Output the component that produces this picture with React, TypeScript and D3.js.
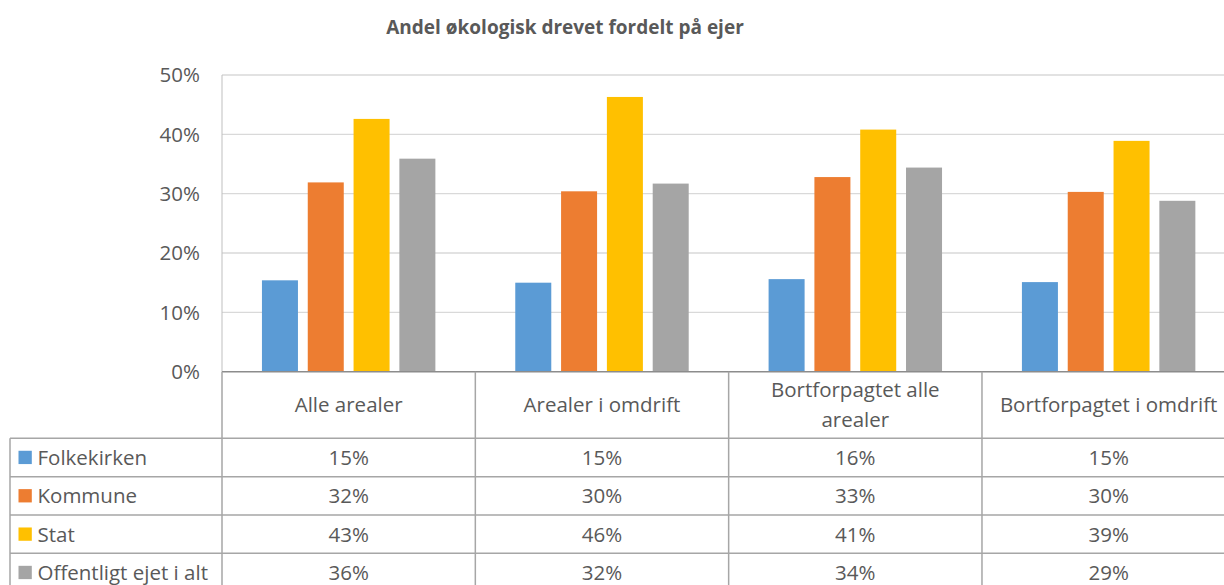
import React from "react";
import * as d3 from "d3";

const title = "Andel økologisk drevet fordelt på ejer";
const categories = ["Alle arealer", "Arealer i omdrift", "Bortforpagtet alle arealer", "Bortforpagtet i omdrift"];
const categoryLines = [["Alle arealer"], ["Arealer i omdrift"], ["Bortforpagtet alle", "arealer"], ["Bortforpagtet i omdrift"]];
const seriesNames = ["Folkekirken", "Kommune", "Stat", "Offentligt ejet i alt"];
const folkekirken = [0.154, 0.150, 0.156, 0.151];
const kommune = [0.319, 0.304, 0.328, 0.303];
const stat = [0.426, 0.463, 0.408, 0.389];
const offentligt = [0.359, 0.317, 0.344, 0.288];
const yTicks = [0, 0.1, 0.2, 0.3, 0.4, 0.5];
const colors = ["#5B9BD5", "#ED7D31", "#FFC000", "#A5A5A5"];

const seriesValues = [folkekirken, kommune, stat, offentligt];

const W = 1224;
const H = 585;
const plotLeft = 222;
const plotRight = 1235.3;
const plotTop = 75;
const plotBottom = 371.7;
const tableLeft = 10;
const headerBottom = 438.3;
const rowH = 38.35;

const FONT = "'Open Sans', sans-serif";
const TXT = "#595959";
const LINE = "#A6A6A6";

export default function App() {
  const x0 = d3.scaleBand<string>().domain(categories).range([plotLeft, plotRight]).padding(0);
  const x1 = d3
    .scaleBand<string>()
    .domain(seriesNames)
    .range([0, x0.bandwidth()])
    .paddingInner(0.214)
    .paddingOuter(0.872);
  const y = d3.scaleLinear().domain([0, 0.5]).range([plotBottom, plotTop]);
  const fmt = d3.format(".0%");

  const rowY = (i: number) => headerBottom + i * rowH;

  return (
    <svg
      width={W}
      height={H}
      style={{ position: "absolute", left: 0, top: 0, background: "#fff" }}
      fontFamily={FONT}
    >
      <rect x={0} y={0} width={W} height={H} fill="#fff" />
      <text x={565} y={33.5} textAnchor="middle" fontWeight="bold" fontSize={19} fill={TXT}>
        {title}
      </text>

      {/* gridlines */}
      {yTicks.slice(1).map((t) => (
        <line key={t} x1={plotLeft} x2={plotRight} y1={y(t)} y2={y(t)} stroke="#D9D9D9" strokeWidth={1.3} />
      ))}
      {/* y labels */}
      {yTicks.map((t) => (
        <text key={"l" + t} x={200} y={y(t)} dy="0.36em" textAnchor="end" fontSize={20.5} fill={TXT}>
          {fmt(t)}
        </text>
      ))}
      {/* y axis line */}
      <line x1={plotLeft} x2={plotLeft} y1={plotTop} y2={plotBottom} stroke="#BFBFBF" strokeWidth={1} />

      {/* bars */}
      {categories.map((c, ci) => (
        <g key={c} transform={`translate(${x0(c)},0)`}>
          {seriesNames.map((s, si) => {
            const v = seriesValues[si][ci];
            return (
              <rect
                key={s}
                x={x1(s)}
                y={y(v)}
                width={x1.bandwidth()}
                height={plotBottom - y(v)}
                fill={colors[si]}
              />
            );
          })}
        </g>
      ))}

      {/* table lines */}
      <line x1={plotLeft} x2={W} y1={plotBottom} y2={plotBottom} stroke="#8C8C8C" strokeWidth={1.5} />
      {[0, 1, 2, 3, 4].map((i) => (
        <line key={"h" + i} x1={tableLeft} x2={W} y1={rowY(i)} y2={rowY(i)} stroke={LINE} strokeWidth={1.5} />
      ))}
      <line x1={tableLeft} x2={tableLeft} y1={headerBottom} y2={H} stroke={LINE} strokeWidth={1.5} />
      {categories.map((c) => (
        <line key={"v" + c} x1={x0(c)} x2={x0(c)} y1={plotBottom} y2={H} stroke={LINE} strokeWidth={1.5} />
      ))}
      <line x1={plotRight} x2={plotRight} y1={plotBottom} y2={H} stroke={LINE} strokeWidth={1.5} />

      {/* header labels */}
      {categories.map((c, ci) => {
        const lines = categoryLines[ci];
        const cx = (x0(c) as number) + x0.bandwidth() / 2;
        const cy = (plotBottom + headerBottom) / 2;
        const lh = 30;
        return (
          <text key={"hl" + c} x={cx} textAnchor="middle" fontSize={20.5} fill={TXT}>
            {lines.map((ln, li) => (
              <tspan key={li} x={cx} y={cy + (li - (lines.length - 1) / 2) * lh} dy="0.36em">
                {ln}
              </tspan>
            ))}
          </text>
        );
      })}

      {/* rows */}
      {seriesNames.map((s, si) => {
        const cy = rowY(si) + rowH / 2;
        return (
          <g key={"r" + s}>
            <rect x={18.5} y={cy - 6.7} width={13.3} height={13.3} fill={colors[si]} />
            <text x={37.5} y={cy} dy="0.36em" fontSize={20.5} fill={TXT}>
              {s}
            </text>
            {categories.map((c, ci) => (
              <text
                key={c}
                x={(x0(c) as number) + x0.bandwidth() / 2}
                y={cy}
                dy="0.36em"
                textAnchor="middle"
                fontSize={20.5}
                fill={TXT}
              >
                {fmt(seriesValues[si][ci])}
              </text>
            ))}
          </g>
        );
      })}
    </svg>
  );
}
